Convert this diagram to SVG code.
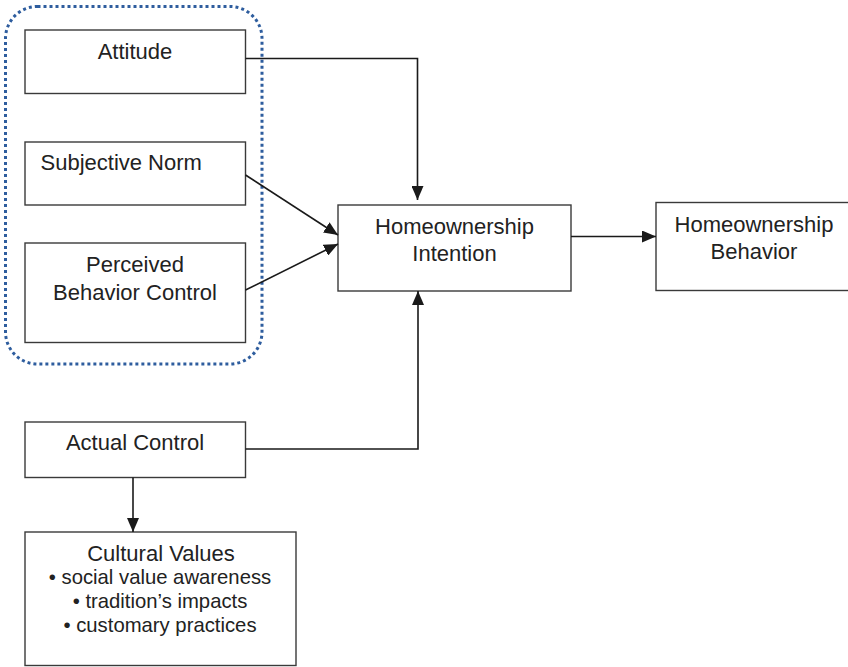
<svg xmlns="http://www.w3.org/2000/svg" width="848" height="667" viewBox="0 0 848 667">
<defs>
<style>
.box{fill:#fff;stroke:#3a3a3a;stroke-width:1.4}
.t{font-family:"Liberation Sans",Arial,sans-serif;font-size:22px;fill:#222;text-anchor:middle}
.b{font-size:20.3px}
.c{fill:none;stroke:#1a1a1a;stroke-width:1.6}
</style>
<marker id="ah" viewBox="0 0 14 12" refX="14" refY="6" markerWidth="14" markerHeight="12" markerUnits="userSpaceOnUse" orient="auto">
<path d="M0,0 L14,6 L0,12 z" fill="#1a1a1a"/>
</marker>
</defs>
<rect width="848" height="667" fill="#fff"/>
<rect id="tpb-group" x="5.5" y="6.5" width="256.5" height="357.5" rx="32" ry="32" fill="none" stroke="#2e5d9e" stroke-width="3" stroke-dasharray="3 3"/>
<g id="attitude">
<rect class="box" x="25" y="30" width="220.5" height="63.5"/>
<text class="t" x="135" y="59">Attitude</text>
</g>
<g id="subjective-norm">
<rect class="box" x="25" y="142" width="220.5" height="63"/>
<text class="t" x="40.5" y="170" style="text-anchor:start">Subjective Norm</text>
</g>
<g id="pbc">
<rect class="box" x="25" y="243" width="220.5" height="99.5"/>
<text class="t" x="135" y="272">Perceived</text>
<text class="t" x="135" y="300">Behavior Control</text>
</g>
<g id="intention">
<rect class="box" x="338" y="205" width="233" height="86"/>
<text class="t" x="454.5" y="234">Homeownership</text>
<text class="t" x="454.5" y="261">Intention</text>
</g>
<g id="behavior">
<rect class="box" x="656" y="202.5" width="200" height="88"/>
<text class="t" x="754" y="232">Homeownership</text>
<text class="t" x="754" y="259">Behavior</text>
</g>
<g id="actual-control">
<rect class="box" x="25" y="422" width="220.5" height="55.5"/>
<text class="t" x="135" y="450">Actual Control</text>
</g>
<g id="cultural-values">
<rect class="box" x="25" y="532" width="271" height="133.5"/>
<text class="t" x="161" y="561">Cultural Values</text>
<text class="t b" x="160" y="584">• social value awareness</text>
<text class="t b" x="160" y="608">• tradition’s impacts</text>
<text class="t b" x="160" y="632">• customary practices</text>
</g>
<g id="connectors">
<path class="c" d="M245.5,58.5 H417.5 V200" marker-end="url(#ah)"/>
<path class="c" d="M245.5,175 L338,235" marker-end="url(#ah)"/>
<path class="c" d="M245.5,290 L338,244" marker-end="url(#ah)"/>
<path class="c" d="M571,236.5 H656" marker-end="url(#ah)"/>
<path class="c" d="M245.5,449 H418 V291" marker-end="url(#ah)"/>
<path class="c" d="M133,477.5 V532" marker-end="url(#ah)"/>
</g>
</svg>
